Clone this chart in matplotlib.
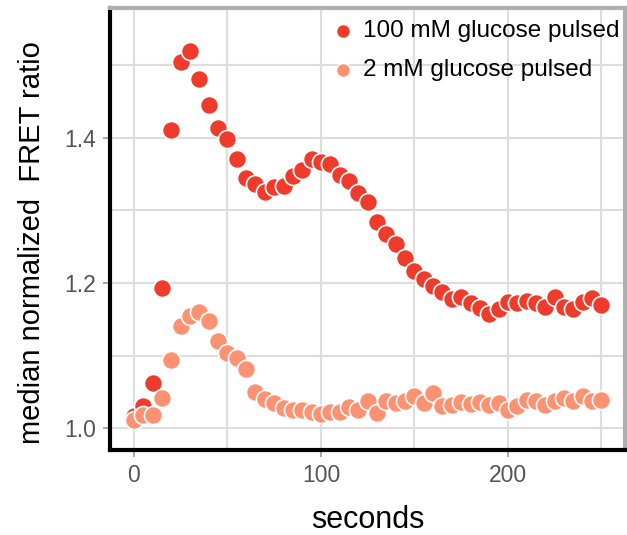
import matplotlib.pyplot as plt
from matplotlib.ticker import MultipleLocator

plt.rcParams['font.family'] = ['Liberation Sans', 'DejaVu Sans']

seconds = list(range(0, 255, 5))

# 100 mM glucose pulsed
fret_100 = [1.017, 1.031, 1.062, 1.193, 1.411, 1.505, 1.520, 1.481, 1.446, 1.414,
            1.398, 1.371, 1.345, 1.336, 1.325, 1.333, 1.334, 1.348, 1.356, 1.371,
            1.367, 1.364, 1.349, 1.341, 1.324, 1.312, 1.284, 1.267, 1.254, 1.234,
            1.217, 1.206, 1.196, 1.187, 1.178, 1.181, 1.172, 1.165, 1.158, 1.164,
            1.174, 1.173, 1.175, 1.172, 1.167, 1.181, 1.167, 1.164, 1.174, 1.179,
            1.170]

# 2 mM glucose pulsed
fret_2 = [1.011, 1.018, 1.018, 1.041, 1.094, 1.141, 1.154, 1.160, 1.148, 1.120,
          1.103, 1.097, 1.081, 1.050, 1.040, 1.034, 1.028, 1.025, 1.025, 1.022,
          1.019, 1.022, 1.022, 1.029, 1.025, 1.038, 1.021, 1.037, 1.035, 1.038,
          1.044, 1.035, 1.049, 1.030, 1.032, 1.036, 1.033, 1.036, 1.032, 1.035,
          1.025, 1.030, 1.039, 1.038, 1.032, 1.037, 1.041, 1.038, 1.044, 1.037,
          1.039]

red = '#ef3b2c'
salmon = '#fc9272'

fig = plt.figure(figsize=(6.27, 5.35), dpi=100)
ax = fig.add_axes([0.1754, 0.159, 0.8214, 0.826])

ax.scatter(seconds, fret_100, s=170, color=red, edgecolors='white', linewidths=1.2,
           label='100 mM glucose pulsed', zorder=3)
ax.scatter(seconds, fret_2, s=170, color=salmon, edgecolors='white', linewidths=1.2,
           label='2 mM glucose pulsed', zorder=3)

ax.set_xlim(-12.8, 262.6)
ax.set_ylim(0.970, 1.579)

ax.xaxis.set_major_locator(MultipleLocator(100))
ax.xaxis.set_minor_locator(MultipleLocator(50))
ax.yaxis.set_major_locator(MultipleLocator(0.2))
ax.yaxis.set_minor_locator(MultipleLocator(0.1))
ax.grid(True, which='both', color='#dddddd', linewidth=1.5, zorder=0)
ax.set_axisbelow(True)

ax.tick_params(which='major', length=5, width=1.2, color='#999999',
               labelsize=16.5, labelcolor='#555555', pad=5)
ax.tick_params(which='minor', length=0)

for side in ['left', 'bottom']:
    ax.spines[side].set_color('black')
    ax.spines[side].set_linewidth(3)
for side in ['top', 'right']:
    ax.spines[side].set_color('#b0b0b0')
    ax.spines[side].set_linewidth(3)

ax.set_xlabel('seconds', fontsize=22, labelpad=13)
ax.set_ylabel('median normalized  FRET ratio', fontsize=21)
ax.yaxis.set_label_coords(-0.125, 0.47)

leg = ax.legend(loc='upper left', bbox_to_anchor=(333 / 627, 1 - 20 / 535),
                bbox_transform=fig.transFigure, frameon=False, fontsize=17.5,
                handlelength=0.8, handletextpad=0.45, markerscale=0.78,
                borderaxespad=0, borderpad=0, labelspacing=0.7)

fig.savefig('out.png', dpi=100)
